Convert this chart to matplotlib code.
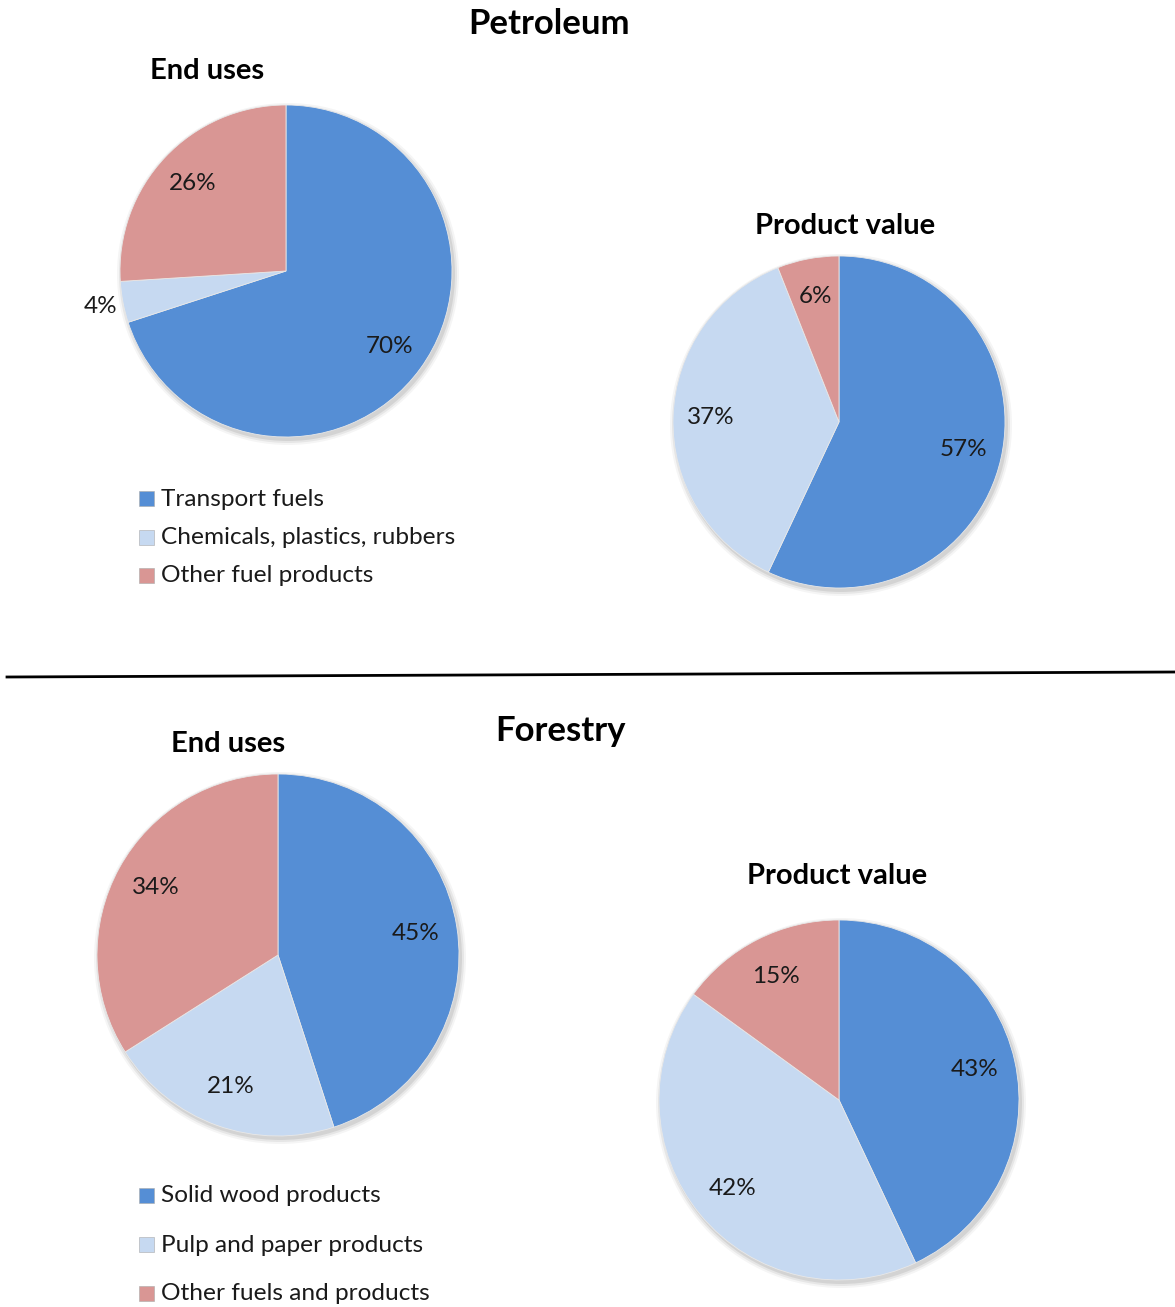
import numpy as np
import matplotlib.pyplot as plt
from matplotlib.patches import Rectangle, Circle

plt.rcParams['font.family'] = ['Lato', 'DejaVu Sans']

# data
pet_end_labels = ["Transport fuels", "Chemicals, plastics, rubbers", "Other fuel products"]
pet_end_vals = [70, 4, 26]
pet_val_vals = [57, 37, 6]

for_end_labels = ["Solid wood products", "Pulp and paper products", "Other fuels and products"]
for_end_vals = [45, 21, 34]
for_val_vals = [43, 42, 15]

colors = ["#558ED5", "#C6D9F1", "#D99694"]

W, H = 1175, 1307
fig = plt.figure(figsize=(W / 100, H / 100), dpi=100)
ax = fig.add_axes([0, 0, 1, 1])
ax.set_xlim(0, W)
ax.set_ylim(0, H)
ax.set_aspect('equal')
ax.axis('off')


def Y(y):
    # image pixel row -> data y
    return H - y


def pie(vals, cx, cy, r, outside=()):
    # soft shadow
    for k, a in [(5, 0.04), (3, 0.06), (1, 0.08)]:
        ax.add_patch(Circle((cx + 2, Y(cy) - 3), r + k, color='black', alpha=a, lw=0, zorder=1))
    ax.pie(vals, colors=colors, startangle=90, counterclock=False,
           center=(cx, Y(cy)), radius=r, frame=True,
           wedgeprops=dict(edgecolor='#e8e8e8', linewidth=0.6, zorder=2))
    tot = sum(vals)
    start = 90.0
    for i, v in enumerate(vals):
        mid = np.deg2rad(start - v / tot * 180)
        start -= v / tot * 360
        d = 1.14 if i in outside else 0.77
        ax.text(cx + d * r * np.cos(mid), Y(cy) + d * r * np.sin(mid), f"{v}%",
                ha='center', va='center', fontsize=17.5, color='#1a1a1a', zorder=5)


def legend(labels, x, ys):
    for lab, c, y in zip(labels, colors, ys):
        ax.add_patch(Rectangle((x, Y(y) - 7), 15, 15, facecolor=c, edgecolor='#aaaaaa', lw=0.4))
        ax.text(x + 22, Y(y), lab, ha='left', va='center', fontsize=17.6, color='#1a1a1a')


# Petroleum
ax.text(549, Y(24), "Petroleum", ha='center', va='center', fontsize=25, fontweight='bold')
ax.text(207, Y(71), "End uses", ha='center', va='center', fontsize=21, fontweight='bold')
ax.text(845, Y(226), "Product value", ha='center', va='center', fontsize=21, fontweight='bold')
pie(pet_end_vals, 286, 271, 166, outside=(1,))
pie(pet_val_vals, 839, 422, 166)
legend(pet_end_labels, 139, [499, 538, 576])

# divider
ax.plot([7, 1175], [Y(677), Y(672)], color='black', lw=2)

# Forestry
ax.text(560, Y(731), "Forestry", ha='center', va='center', fontsize=25, fontweight='bold')
ax.text(228, Y(744), "End uses", ha='center', va='center', fontsize=21, fontweight='bold')
ax.text(837, Y(876), "Product value", ha='center', va='center', fontsize=21, fontweight='bold')
pie(for_end_vals, 278, 955, 181)
pie(for_val_vals, 839, 1100, 180)
legend(for_end_labels, 139, [1196, 1245, 1294])

ax.set_xlim(0, W)
ax.set_ylim(0, H)
fig.savefig("out.png", dpi=100)
